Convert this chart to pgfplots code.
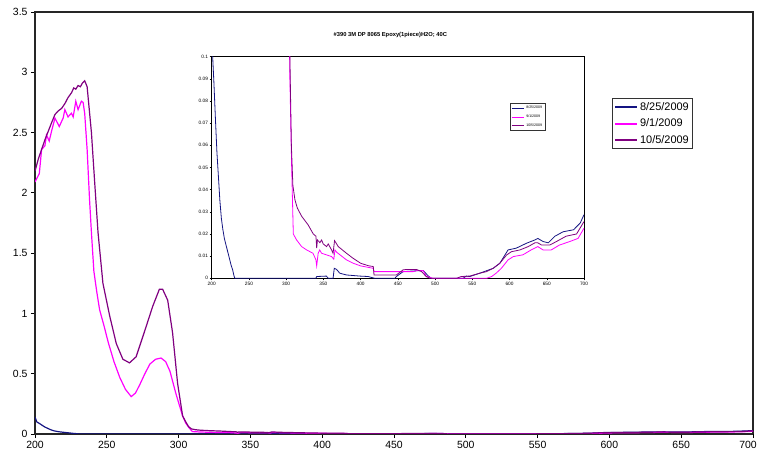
\documentclass[border=0pt]{standalone}
\usepackage{pgfplots}
\pgfplotsset{compat=1.18}
\usepackage{pgfplotstable}
\usepackage{fontspec}
\setmainfont{Liberation Sans}
\definecolor{cblue}{RGB}{20,20,130}
\definecolor{cpink}{RGB}{255,0,255}
\definecolor{cpurple}{RGB}{128,0,128}

\pgfplotstableread{
x y
200 0.140
201.3 0.100
203 0.088
205 0.072
207 0.057
209 0.046
211 0.035
213 0.027
215 0.022
217 0.018
220 0.014
223 0.010
226 0.006
228 0.004
230 0.001
231 0
340 0
341 0.0008
354 0.001
356.5 0
363 0
364.6 0.0045
367.7 0.004
372 0.0023
381 0.0015
399 0.001
410 0.0008
419 0
446 0
448 0.0008
457 0.003
470 0.0033
484 0.0035
491 0.001
495 0
537.6 0
542 0.001
546.6 0.0008
560 0.0023
578 0.0045
587 0.0068
598 0.0128
609 0.0136
622.6 0.0158
634 0.0173
638 0.018
645 0.0166
652 0.016
661 0.019
672 0.021
686 0.0219
695 0.025
700 0.0287
}\bluedata

\pgfplotstableread{
x y
200 2.09
203 2.16
204.6 2.36
206.9 2.39
208 2.48
209.9 2.43
211.5 2.51
213.9 2.62
216.9 2.55
219.6 2.62
220.8 2.69
223 2.63
225.4 2.66
226.6 2.63
228.4 2.76
230 2.69
232.3 2.76
233.5 2.75
234.6 2.66
236.3 2.36
238 1.94
239.3 1.67
241 1.35
243 1.18
245 1.03
248 0.90
251 0.76
255 0.60
259 0.47
263 0.37
267 0.31
270 0.34
273 0.41
276.5 0.50
280 0.58
284 0.62
287.8 0.63
291 0.60
294 0.52
298 0.34
300.5 0.24
302.8 0.15
305 0.09
307.4 0.05
309.6 0.020
314 0.0173
320.8 0.0143
327.5 0.0128
336 0.0113
340 0.0083
341 0.0056
343 0.0113
345 0.0128
347.6 0.0113
354 0.0106
361 0.0098
364 0.0086
365.5 0.0128
367.7 0.0118
381 0.0083
390 0.0068
400 0.0056
417 0.0045
418 0.003
470.6 0.003
476 0.0035
484 0.0035
488 0.001
497 0
569 0
576 0.0008
582 0.0023
589 0.0045
598 0.0083
605 0.0098
618 0.0106
629 0.0128
638 0.0143
645 0.0128
656 0.0128
667 0.015
681 0.0166
692 0.018
700 0.0226
}\pinkdata

\pgfplotstableread{
x y
200 2.18
202.3 2.28
204.6 2.36
206.9 2.44
209.2 2.51
211.5 2.58
213.9 2.65
216.2 2.68
218.5 2.70
220.8 2.74
223 2.79
225.4 2.83
227 2.87
228.4 2.86
230 2.89
231.6 2.88
233 2.91
234.6 2.93
236.3 2.88
239.3 2.50
241.6 2.08
243.9 1.67
247.3 1.25
252 0.98
256.6 0.75
261.2 0.62
265.8 0.59
270.4 0.64
276 0.84
282 1.06
286.6 1.20
288.9 1.20
292.4 1.11
295.8 0.84
299.3 0.42
302.8 0.15
305 0.10
307 0.060
309 0.042
311.8 0.0354
315 0.0317
320.8 0.028
329.7 0.024
336.4 0.020
340 0.019
341 0.0136
342 0.0173
345.3 0.0161
347.6 0.0173
349.8 0.0155
354.3 0.0143
356.5 0.0155
361 0.0128
363 0.0113
365 0.017
370 0.0143
381 0.0113
390 0.009
400 0.0068
410 0.0057
417 0.0053
418 0.0015
448 0.0015
457 0.0038
461.6 0.004
475 0.004
482 0.003
488 0.0008
493 0
529 0
535 0.0008
546.6 0.001
560 0.0023
569 0.003
578 0.0045
587 0.0068
596 0.0105
602.5 0.012
614 0.0128
625 0.0143
634 0.016
638 0.016
643 0.015
654 0.015
663 0.0166
676 0.019
690 0.020
700 0.0256
}\purpledata

\begin{document}
\begin{tikzpicture}
\path[use as bounding box] (0bp,0bp) rectangle (759bp,460bp);
\begin{axis}[
  at={(35bp,26bp)}, anchor=south west,
  scale only axis, width=718bp, height=422bp,
  xmin=200, xmax=700, ymin=0, ymax=3.5,
  xtick={200,250,...,650},
  extra x ticks={700}, extra x tick labels={700},
  extra x tick style={xticklabel style={xshift=-5bp}},
  ytick={0,0.5,1,1.5,2,2.5,3,3.5},
  yticklabels={0,0.5,1,1.5,2,2.5,3,3.5},
  tick align=outside, xtick pos=bottom, ytick pos=left,
  major tick length=4bp,
  tick style={black, line width=0.8bp},
  axis line style={black!85, line width=1.1bp},
  ticklabel style={font=\fontsize{10.5}{12}\selectfont},
  /pgf/number format/assume math mode=true,
  xticklabel style={/pgf/number format/1000 sep={}},
  legend style={at={(rel axis cs:0.8036,0.796)}, anchor=north west,
    draw=black!80, line width=1bp, font=\fontsize{11}{12}\selectfont,
    inner xsep=2bp, inner ysep=2bp, row sep=3bp},
  legend cell align=left,
  legend image code/.code={\draw[#1, line width=1.6bp] (0bp,0bp) -- (22bp,0bp);},
]
\addplot[cblue, line width=1.2bp] table[x=x,y=y] {\bluedata};
\addplot[cpink, line width=1.2bp] table[x=x,y=y] {\pinkdata};
\addplot[cpurple, line width=1.2bp] table[x=x,y=y] {\purpledata};
\legend{8/25/2009, 9/1/2009, 10/5/2009}
\end{axis}
\begin{axis}[
  at={(211.7bp,181.7bp)}, anchor=south west,
  scale only axis, width=372.3bp, height=221.6bp,
  xmin=200, xmax=700, ymin=0, ymax=0.1,
  xtick={200,250,...,700},
  ytick={0,0.01,0.02,0.03,0.04,0.05,0.06,0.07,0.08,0.09,0.1},
  yticklabels={0,0.01,0.02,0.03,0.04,0.05,0.06,0.07,0.08,0.09,0.1},
  tick align=outside, xtick pos=bottom, ytick pos=left,
  major tick length=2bp,
  tick style={black, line width=0.5bp},
  axis line style={black, line width=0.9bp},
  ticklabel style={font=\fontsize{4.8}{5}\selectfont, inner sep=1.5bp},
  /pgf/number format/assume math mode=true,
  axis background/.style={fill=white},
  title={\bfseries\#390 3M DP 8065 Epoxy(1piece)H2O; 40C},
  title style={at={(rel axis cs:0.48,1)}, anchor=south, yshift=9bp, font=\fontsize{5.8}{6}\selectfont},
  legend style={at={(rel axis cs:0.801,0.791)}, anchor=north west,
    draw=black!80, line width=0.7bp, font=\fontsize{3.6}{4}\selectfont,
    inner xsep=1bp, inner ysep=0.8bp, row sep=0.8bp},
  legend cell align=left,
  legend image code/.code={\draw[#1, line width=1bp] (0bp,0bp) -- (12bp,0bp);},
]
\addplot[cblue, line width=0.8bp] table[x=x,y=y] {\bluedata};
\addplot[cpink, line width=0.8bp] table[x=x,y=y] {\pinkdata};
\addplot[cpurple, line width=0.8bp] table[x=x,y=y] {\purpledata};
\legend{8/25/2009, 9/1/2009, 10/5/2009}
\end{axis}
\end{tikzpicture}
\end{document}
